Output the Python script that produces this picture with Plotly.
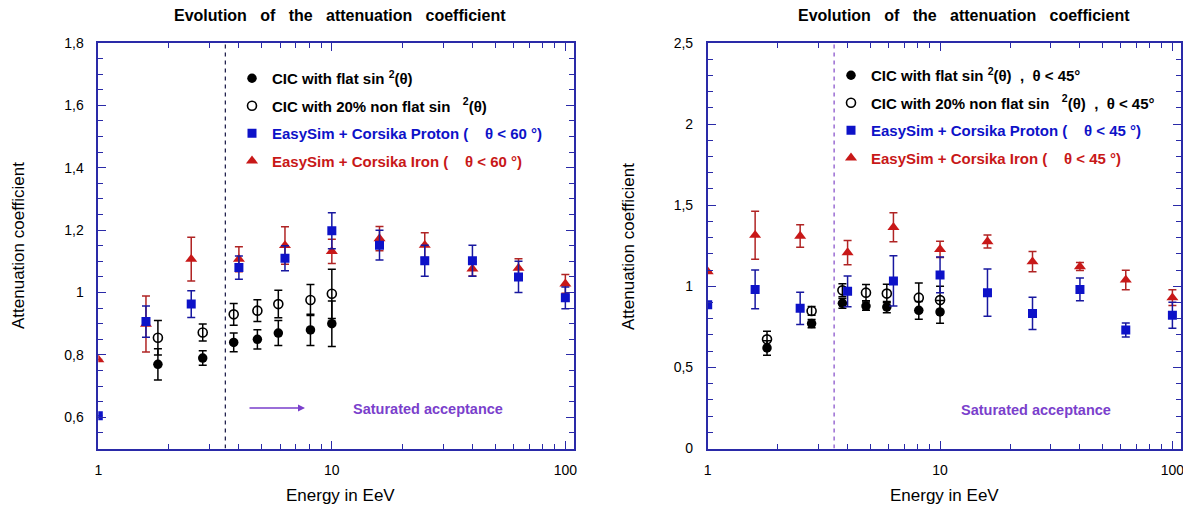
import plotly.graph_objects as go

# ---- data ----
# left panel (theta < 60)
cic_e = [1.8, 2.8, 3.8, 4.8, 5.9, 8.1, 10.0]
sim_e = [1.0, 1.6, 2.5, 4.0, 6.3, 10.0, 16.0, 25.0, 40.0, 63.0, 100.0]

l_flat = [0.77, 0.79, 0.84, 0.85, 0.87, 0.88, 0.90]
l_flat_err = [0.05, 0.023, 0.03, 0.031, 0.04, 0.05, 0.073]
l_nonflat = [0.855, 0.872, 0.93, 0.942, 0.963, 0.976, 0.996]
l_nonflat_err = [0.055, 0.027, 0.035, 0.035, 0.044, 0.05, 0.079]
l_proton = [0.605, 0.907, 0.963, 1.08, 1.11, 1.198, 1.152, 1.102, 1.102, 1.05, 0.983]
l_proton_err = [0.0, 0.05, 0.043, 0.037, 0.04, 0.058, 0.048, 0.05, 0.05, 0.05, 0.035]
l_iron = [0.785, 0.899, 1.107, 1.107, 1.151, 1.132, 1.173, 1.152, 1.076, 1.078, 1.028]
l_iron_err = [0.0, 0.09, 0.07, 0.04, 0.06, 0.039, 0.039, 0.04, 0.023, 0.03, 0.03]

# right panel (theta < 45)
r_flat = [0.62, 0.77, 0.895, 0.878, 0.872, 0.852, 0.842]
r_flat_err = [0.045, 0.025, 0.03, 0.025, 0.035, 0.055, 0.07]
r_nonflat = [0.673, 0.848, 0.975, 0.961, 0.955, 0.93, 0.915]
r_nonflat_err = [0.05, 0.027, 0.04, 0.05, 0.057, 0.09, 0.085]
r_proton = [0.887, 0.981, 0.864, 0.969, 1.033, 1.07, 0.961, 0.833, 0.981, 0.73, 0.821]
r_proton_err = [0.0, 0.12, 0.1, 0.095, 0.155, 0.11, 0.145, 0.1, 0.07, 0.043, 0.08]
r_iron = [1.091, 1.315, 1.31, 1.208, 1.364, 1.228, 1.276, 1.152, 1.122, 1.039, 0.93]
r_iron_err = [0.0, 0.148, 0.07, 0.075, 0.09, 0.05, 0.04, 0.062, 0.025, 0.06, 0.048]

saturation_e = 3.5

x_ticks = [1, 10, 100]
x_labels = ["1", "10", "100"]
x_minor = [2, 3, 4, 5, 6, 7, 8, 9, 20, 30, 40, 50, 60, 70, 80, 90]
l_yticks = [0.6, 0.8, 1.0, 1.2, 1.4, 1.6, 1.8]
l_ylabels = ["0,6", "0,8", "1", "1,2", "1,4", "1,6", "1,8"]
r_yticks = [0, 0.5, 1.0, 1.5, 2.0, 2.5]
r_ylabels = ["0", "0,5", "1", "1,5", "2", "2,5"]

# the page body has an 8px margin, so the figure is placed at (8, 8)
OFF = 8
W, H = 1191 - OFF, 511 - OFF
FONT = "Liberation Sans, Arial, sans-serif"
AXIS_BLUE = "#2a2aa8"
BLUE = "#0d12c8"
RED = "#c81818"
PURPLE = "#7a3fcc"


def px_x(p):
    return (p - OFF) / W


def px_y(p):
    return (511 - p) / H


fig = go.Figure()


def add_panel(xa, ya, leg, flat, flat_err, nonflat, nonflat_err, proton, proton_err,
              iron, iron_err, names, vcolor, yr):
    fig.add_trace(go.Scatter(
        x=[saturation_e, saturation_e], y=yr, mode="lines", xaxis=xa, yaxis=ya,
        line=dict(color=vcolor, width=1.3, dash="4px,4px"), showlegend=False, hoverinfo="skip"))
    fig.add_trace(go.Scatter(
        x=cic_e, y=flat, mode="markers", name=names[0], xaxis=xa, yaxis=ya, legend=leg,
        legendgroup=leg + "a", legendrank=1,
        marker=dict(symbol="circle", size=9.5, color="black"),
        error_y=dict(type="data", array=flat_err, color="black", thickness=1.5, width=4)))
    fig.add_trace(go.Scatter(
        x=cic_e, y=nonflat, mode="markers", name=names[1], xaxis=xa, yaxis=ya, legend=leg,
        legendgroup=leg + "b", legendrank=2,
        marker=dict(symbol="circle-open", size=9, color="black", line=dict(width=1.6)),
        error_y=dict(type="data", array=nonflat_err, color="black", thickness=1.5, width=4)))
    fig.add_trace(go.Scatter(
        x=sim_e, y=iron, mode="markers", name=names[3], xaxis=xa, yaxis=ya, legend=leg,
        legendgroup=leg + "d", legendrank=4,
        marker=dict(symbol="triangle-up", size=10.5, color=RED),
        error_y=dict(type="data", array=iron_err, color="#b02424", thickness=1.5, width=4)))
    fig.add_trace(go.Scatter(
        x=sim_e, y=proton, mode="markers", name=names[2], xaxis=xa, yaxis=ya, legend=leg,
        legendgroup=leg + "c", legendrank=3,
        marker=dict(symbol="square", size=9, color=BLUE),
        error_y=dict(type="data", array=proton_err, color="#1818a0", thickness=1.5, width=4)))


def colored(txt, c):
    return "<b><span style='color:%s'>%s</span></b>" % (c, txt)


left_names = [
    "<b>CIC with flat sin <sup>2</sup>(\u03b8)</b>",
    "<b>CIC with 20% non flat sin   <sup>2</sup>(\u03b8)</b>",
    colored("EasySim + Corsika Proton (    \u03b8 &lt; 60 \u00b0)", BLUE),
    colored("EasySim + Corsika Iron (    \u03b8 &lt; 60 \u00b0)", RED),
]
right_names = [
    "<b>CIC with flat sin <sup>2</sup>(\u03b8)  ,  \u03b8 &lt; 45\u00b0</b>",
    "<b>CIC with 20% non flat sin   <sup>2</sup>(\u03b8)  ,  \u03b8 &lt; 45\u00b0</b>",
    colored("EasySim + Corsika Proton (    \u03b8 &lt; 45 \u00b0)", BLUE),
    colored("EasySim + Corsika Iron (    \u03b8 &lt; 45 \u00b0)", RED),
]

add_panel("x", "y", "legend", l_flat, l_flat_err, l_nonflat, l_nonflat_err,
          l_proton, l_proton_err, l_iron, l_iron_err, left_names, "#23234f", [0.5, 1.8])
add_panel("x2", "y2", "legend2", r_flat, r_flat_err, r_nonflat, r_nonflat_err,
          r_proton, r_proton_err, r_iron, r_iron_err, right_names, "#8a55cc", [0, 2.5])

# layout in pixels -> paper fractions
left_dom = [px_x(98.3), px_x(574)]
right_dom = [px_x(707.7), px_x(1181)]
y_dom = [px_y(448.5), px_y(43)]

xcommon = dict(type="log", range=[0, 2.037], tickvals=x_ticks, ticktext=x_labels,
               ticks="inside", ticklen=8, tickwidth=1.3, tickcolor=AXIS_BLUE,
               minor=dict(tickvals=x_minor, ticks="inside", ticklen=5, tickwidth=1.2,
                          tickcolor=AXIS_BLUE),
               showline=True, linecolor=AXIS_BLUE, linewidth=1.6, mirror="ticks",
               showgrid=False, zeroline=False, ticklabelstandoff=8, automargin=False,
               tickfont=dict(family=FONT, size=14, color="black"))
ycommon = dict(ticks="inside", ticklen=8, tickwidth=1.3, tickcolor=AXIS_BLUE,
               showline=True, linecolor=AXIS_BLUE, linewidth=1.6, mirror="ticks",
               showgrid=False, zeroline=False, ticklabelstandoff=10, automargin=False,
               tickfont=dict(family=FONT, size=14, color="black"))

legend_style = dict(xanchor="left", yanchor="top", bgcolor="rgba(0,0,0,0)",
                    font=dict(family=FONT, size=15, color="black"),
                    tracegroupgap=5, itemsizing="trace")

fig.update_layout(
    width=W, height=H,
    margin=dict(l=0, r=0, t=0, b=0, autoexpand=False),
    paper_bgcolor="white", plot_bgcolor="white",
    font=dict(family=FONT, size=13, color="black"),
    xaxis=dict(domain=left_dom, anchor="y", **xcommon),
    xaxis2=dict(domain=right_dom, anchor="y2", **xcommon),
    yaxis=dict(domain=y_dom, anchor="x", range=[0.5, 1.8], tickvals=l_yticks, ticktext=l_ylabels,
               minor=dict(dtick=0.05, tick0=0.5, ticks="inside", ticklen=5, tickwidth=1.2,
                          tickcolor=AXIS_BLUE), **ycommon),
    yaxis2=dict(domain=y_dom, anchor="x2", range=[0, 2.5], tickvals=r_yticks, ticktext=r_ylabels,
                minor=dict(dtick=0.1, tick0=0, ticks="inside", ticklen=5, tickwidth=1.2,
                           tickcolor=AXIS_BLUE), **ycommon),
    legend=dict(x=px_x(232), y=px_y(62), **legend_style),
    legend2=dict(x=px_x(831), y=px_y(59), **legend_style),
    showlegend=True,
)

title = "<b>Evolution   of   the   attenuation   coefficient</b>"
ann = [
    dict(text=title, x=px_x(340), y=px_y(16), font=dict(size=16)),
    dict(text=title, x=px_x(964), y=px_y(16), font=dict(size=16)),
    dict(text="Attenuation coefficient", x=px_x(18), y=px_y(246), textangle=-90, font=dict(size=17)),
    dict(text="Attenuation coefficient", x=px_x(628), y=px_y(246), textangle=-90, font=dict(size=17)),
    dict(text="Energy in EeV", x=px_x(340), y=px_y(495), font=dict(size=17)),
    dict(text="Energy in EeV", x=px_x(944), y=px_y(495), font=dict(size=17)),
    dict(text="<b>Saturated acceptance</b>", x=px_x(428), y=px_y(409), font=dict(size=14.5, color=PURPLE)),
    dict(text="<b>Saturated acceptance</b>", x=px_x(1036), y=px_y(410), font=dict(size=14.5, color=PURPLE)),
]
for a in ann:
    fig.add_annotation(xref="paper", yref="paper", showarrow=False, xanchor="center",
                       yanchor="middle", **a)

# arrow pointing to the saturated region
fig.add_annotation(xref="paper", yref="paper", x=px_x(305), y=px_y(408), ax=-57, ay=0, text="",
                   showarrow=True, arrowhead=2, arrowsize=1, arrowwidth=1.4, arrowcolor=PURPLE)

fig.write_html("out.html")
